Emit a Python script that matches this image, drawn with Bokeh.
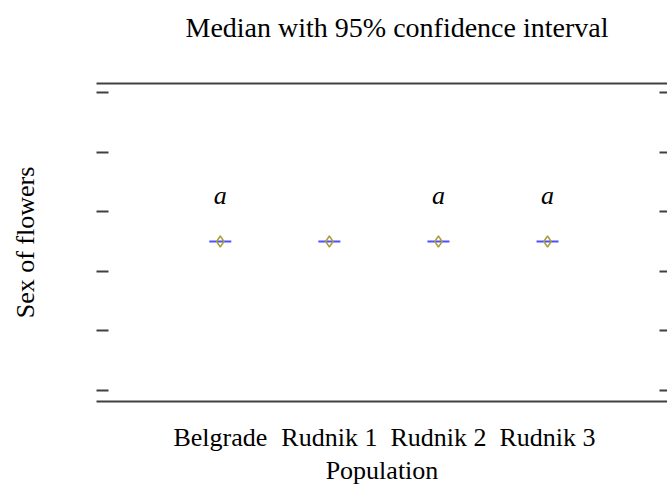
from bokeh.plotting import figure
from bokeh.models import FixedTicker, LinearAxis, Range1d, ColumnDataSource
from bokeh.core.properties import value
from bokeh.embed import file_html
from bokeh.resources import INLINE

# ---- data ----
populations = ["Belgrade", "Rudnik 1", "Rudnik 2", "Rudnik 3"]
pop_index = [1, 2, 3, 4]
medians = [1.0, 1.0, 1.0, 1.0]
letter_index = [1, 3, 4]
letter_median = [1.0, 1.0, 1.0]
letters = ["a", "a", "a"]
y_ticks = [0.90, 0.94, 0.98, 1.02, 1.06, 1.10]

FONT = "Liberation Serif"
AX = "#404040"

p = figure(width=667, height=487, output_backend="svg", toolbar_location=None,
           x_range=Range1d(-0.135, 5.10), y_range=Range1d(0.8927, 1.106),
           x_axis_location=None, y_axis_location=None,
           min_border_left=96, min_border_right=0, min_border_top=83, min_border_bottom=84)
p.outline_line_color = None
p.xgrid.visible = False
p.ygrid.visible = False
p.background_fill_color = "white"
p.border_fill_color = "white"

p.title.text = "Median with 95% confidence interval"
p.title.text_font = FONT
p.title.text_font_size = "28px"
p.title.text_font_style = "normal"
p.title.text_color = "black"
p.title.align = "left"
p.title.offset = 89
p.title.standoff = 10

empty_y = {t: "" for t in y_ticks}
empty_x = {t: "" for t in pop_index}

# left axis: inward ticks, no line, hidden labels
left = LinearAxis(ticker=FixedTicker(ticks=y_ticks), axis_label="Sex of flowers")
left.axis_line_color = None
left.major_tick_in = 12
left.major_tick_out = 0
left.major_tick_line_color = AX
left.major_tick_line_width = 2
left.minor_tick_line_color = None
left.major_label_overrides = empty_y
left.major_label_standoff = 0
left.axis_label_text_font = FONT
left.axis_label_text_font_size = "26px"
left.axis_label_text_font_style = "normal"
left.axis_label_text_color = "black"
left.axis_label_standoff = 57
p.add_layout(left, "left")

# right axis: inward ticks only
right = LinearAxis(ticker=FixedTicker(ticks=y_ticks))
right.axis_line_color = None
right.major_tick_in = 8
right.major_tick_out = 0
right.major_tick_line_color = AX
right.major_tick_line_width = 2
right.minor_tick_line_color = None
right.major_label_overrides = empty_y
right.major_label_standoff = 0
right.major_label_text_font_size = "1px"
p.add_layout(right, "right")

# top line (invisible outward ticks give the gap below the title)
top = LinearAxis(ticker=FixedTicker(ticks=pop_index))
top.axis_line_color = AX
top.axis_line_width = 2
top.major_tick_in = 0
top.major_tick_out = 36
top.major_tick_line_color = None
top.minor_tick_line_color = None
top.major_label_overrides = empty_x
top.major_label_standoff = 0
top.major_label_text_font_size = "1px"
p.add_layout(top, "above")

# bottom axis with population names
bottom = LinearAxis(ticker=FixedTicker(ticks=pop_index), axis_label="Population")
bottom.axis_line_color = AX
bottom.axis_line_width = 2
bottom.major_tick_in = 0
bottom.major_tick_out = 0
bottom.major_tick_line_color = None
bottom.minor_tick_line_color = None
bottom.major_label_overrides = {i: n for i, n in zip(pop_index, populations)}
bottom.major_label_standoff = 21
bottom.major_label_text_font = FONT
bottom.major_label_text_font_size = "26px"
bottom.major_label_text_color = "black"
bottom.axis_label_text_font = FONT
bottom.axis_label_text_font_size = "26px"
bottom.axis_label_text_font_style = "normal"
bottom.axis_label_text_color = "black"
bottom.axis_label_standoff = 1
p.add_layout(bottom, "below")

src = ColumnDataSource(dict(x=pop_index, y=medians))
p.scatter("x", "y", source=src, marker="dash", size=22, line_color="#3030ff",
          line_alpha=0.85, line_width=2)
p.scatter("x", "y", source=src, marker="diamond", size=11, fill_color=None,
          line_color="#a89f3c", line_width=1.5)

lsrc = ColumnDataSource(dict(x=letter_index, y=letter_median, t=letters))
p.text("x", "y", text="t", source=lsrc, text_font=value(FONT), text_font_size="26px",
       text_font_style="italic", text_align="center", text_baseline="middle",
       y_offset=-46, text_color="black")

open("out.html", "w").write(file_html(p, INLINE))
